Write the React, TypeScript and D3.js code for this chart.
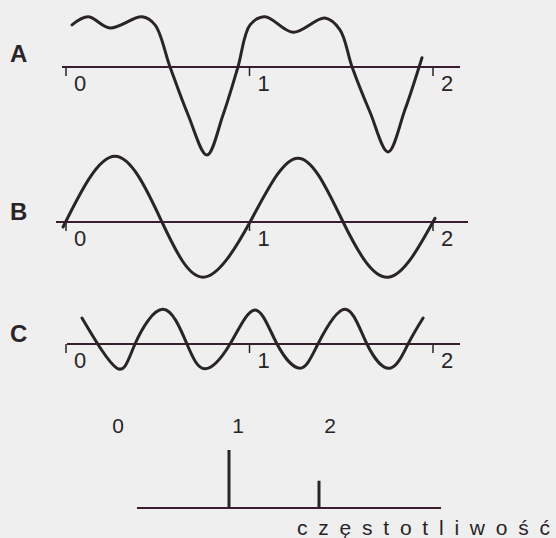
import React from 'react';
import * as d3 from 'd3';

// readings: t = time in periods of the fundamental, v = displacement
const waveA: [number, number][] = [
  [0.033, 0.68], [0.12, 0.81], [0.24, 0.63], [0.414, 0.81], [0.485, 0.68],
  [0.567, 0], [0.665, -0.77], [0.768, -1.42], [0.856, -0.77], [0.937, 0],
  [1.003, 0.68], [1.085, 0.81], [1.237, 0.56], [1.411, 0.79], [1.493, 0.6],
  [1.559, 0], [1.657, -0.73], [1.755, -1.37], [1.847, -0.69], [1.94, 0.15],
];
const waveB: [number, number][] = [
  [-0.016, -0.08], [0.267, 1.06], [0.523, 0], [0.747, -0.89], [1.003, 0],
  [1.264, 1.03], [1.51, 0], [1.755, -0.89], [2.011, 0.06],
];
const waveC: [number, number][] = [
  [0.087, 0.42], [0.278, -0.39], [0.376, 0], [0.529, 0.56], [0.659, 0],
  [0.757, -0.4], [0.894, 0], [1.03, 0.55], [1.15, 0], [1.275, -0.39],
  [1.373, 0], [1.52, 0.56], [1.64, 0], [1.766, -0.39], [1.864, 0], [1.946, 0.42],
];

const panelNames = ['A', 'B', 'C'];
const timeTicks = [0, 1, 2];

const freqs = [1, 2];
const amps = [1, 0.47];
const freqLabels = ['0', '1', '2'];
const freqTitle = 'częstotliwość';

const W = 556;
const H = 538;
const ink = '#2a2427';
const axisInk = '#3a1d31';
const font = '"Liberation Sans", Arial, sans-serif';

const panels = [
  { data: waveA, axisY: 67, x0: 62, x1: 460, nameY: 62, curve: d3.curveCatmullRom.alpha(0.5) },
  { data: waveB, axisY: 222, x0: 56, x1: 468, nameY: 220, curve: d3.curveNatural },
  { data: waveC, axisY: 344, x0: 67, x1: 460, nameY: 342, curve: d3.curveNatural },
];

export default function App() {
  const x = d3.scaleLinear().domain([0, 2]).range([66, 433]);
  const unit = 62;

  const fx = d3.scaleLinear().domain([0, 2]).range([139, 319]);
  const fy = d3.scaleLinear().domain([0, 1]).range([508, 450]);
  const labelX = d3.scaleLinear().domain([0, 1, 2]).range([118, 238, 330]);

  return (
    <svg width={W} height={H} style={{ position: 'absolute', left: 0, top: 0 }}>
      <rect width={W} height={H} fill="#efefef" />
      {panels.map((p, i) => {
        const y = d3.scaleLinear().domain([0, 1]).range([p.axisY, p.axisY - unit]);
        const line = d3
          .line<[number, number]>()
          .x((d) => x(d[0]))
          .y((d) => y(d[1]))
          .curve(p.curve);
        return (
          <g key={panelNames[i]}>
            <text x={10} y={p.nameY} fontFamily={font} fontWeight="bold" fontSize={24} fill={ink}>
              {panelNames[i]}
            </text>
            <line x1={p.x0} x2={p.x1} y1={p.axisY} y2={p.axisY} stroke={axisInk} strokeWidth={2} />
            {timeTicks.map((t) => (
              <g key={t}>
                <line x1={x(t)} x2={x(t)} y1={p.axisY} y2={p.axisY + 9} stroke={ink} strokeWidth={1.5} />
                <text
                  x={x(t) + 8}
                  y={p.axisY + 24}
                  fontFamily={font}
                  fontSize={22}
                  fill={ink}
                >
                  {t}
                </text>
              </g>
            ))}
            <path d={line(p.data) ?? ''} fill="none" stroke={ink} strokeWidth={3} strokeLinecap="round" />
          </g>
        );
      })}

      <line x1={137} x2={441} y1={fy(0)} y2={fy(0)} stroke={axisInk} strokeWidth={2} />
      {freqs.map((f, i) => (
        <line
          key={f}
          x1={fx(f)}
          x2={fx(f)}
          y1={fy(0)}
          y2={fy(amps[i])}
          stroke={ink}
          strokeWidth={3}
        />
      ))}
      {freqLabels.map((l, i) => (
        <text
          key={l}
          x={labelX(i)}
          y={433}
          textAnchor="middle"
          fontFamily={font}
          fontSize={21}
          fill={ink}
        >
          {l}
        </text>
      ))}
      <text
        x={297}
        y={535}
        textLength={253}
        lengthAdjust="spacing"
        fontFamily={font}
        fontSize={21}
        fill={ink}
      >
        {freqTitle}
      </text>
    </svg>
  );
}
